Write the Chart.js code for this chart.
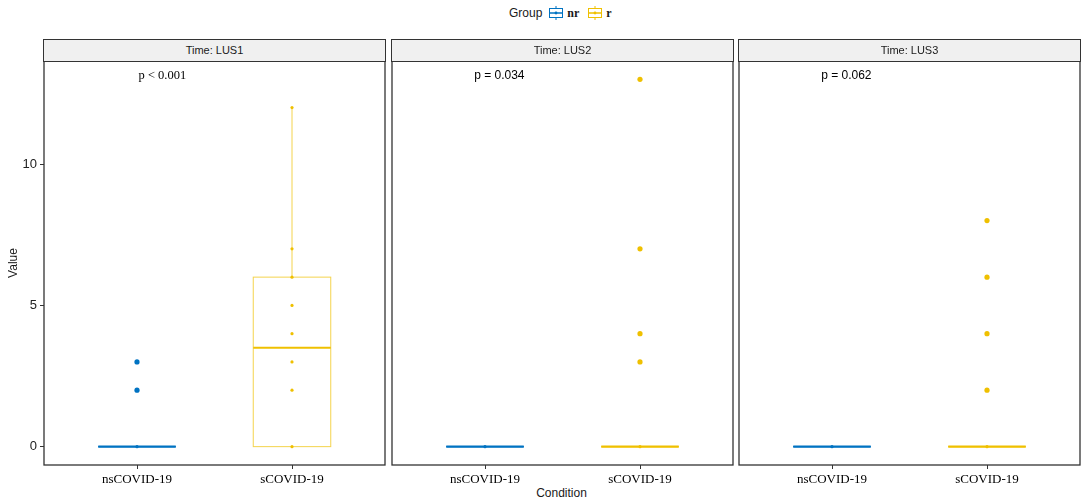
<!DOCTYPE html>
<html>
<head>
<meta charset="utf-8">
<script src="https://cdn.jsdelivr.net/npm/chart.js@4.4.1/dist/chart.umd.min.js"></script>
<style>
  html, body { margin:0; padding:0; background:#fff; }
  body { width:1084px; height:501px; position:relative; overflow:hidden; font-family:"Liberation Sans", Arial, sans-serif; }
  canvas { position:absolute; }
  .strip { position:absolute; top:39px; height:21px; background:#F0F0F0; border:1px solid #333; box-sizing:content-box;
           font:11px "Liberation Sans", Arial, sans-serif; color:#1a1a1a; text-align:center; line-height:21px; z-index:2; }
  .legend { position:absolute; top:5px; left:509px; font:12px "Liberation Sans", Arial, sans-serif; color:#1a1a1a; display:flex; align-items:center; height:16px; }
  .legend span { margin-right:6px; }
  .legend .lab { font:bold 12px "Liberation Serif", "Times New Roman", serif; margin-left:3px; margin-right:8px; }
  .xtitle { position:absolute; top:486px; left:0; width:1123px; text-align:center; font:12px "Liberation Sans", Arial, sans-serif; color:#1a1a1a; }
</style>
</head>
<body>
<div class="legend" id="legend"></div>
<div class="xtitle">Condition</div>
<canvas id="c0" width="386" height="445" style="left:0px;top:56px"></canvas>
<canvas id="c1" width="343" height="445" style="left:391px;top:56px"></canvas>
<canvas id="c2" width="343" height="445" style="left:738px;top:56px"></canvas>
<script>
// ---- data ----
const panels = ['Time: LUS1', 'Time: LUS2', 'Time: LUS3'];
const categories = ['nsCOVID-19', 'sCOVID-19'];
const groups = ['nr', 'r'];
const groupColors = ['#0073C2', '#EFC000'];
const pLabels = ['p < 0.001', 'p = 0.034', 'p = 0.062'];
const yTicks = [0, 5, 10];

// raw observation points (per panel: [nsCOVID-19 (nr), sCOVID-19 (r)])
const lus1Ns = [0, 2, 3];
const lus1S  = [0, 2, 3, 4, 5, 6, 7, 12];
const lus2Ns = [0];
const lus2S  = [0, 3, 4, 7, 13];
const lus3Ns = [0];
const lus3S  = [0, 2, 4, 6, 8];

// box statistics [min, q1, median, q3, max]
const lus1NsBox = [0, 0, 0, 0, 0];
const lus1SBox  = [0, 0, 3.5, 6, 12];
const lus2NsBox = [0, 0, 0, 0, 0];
const lus2SBox  = [0, 0, 0, 0, 0];
const lus3NsBox = [0, 0, 0, 0, 0];
const lus3SBox  = [0, 0, 0, 0, 0];

// outliers
const lus1NsOut = [2, 3];
const lus1SOut  = [];
const lus2NsOut = [];
const lus2SOut  = [3, 4, 7, 13];
const lus3NsOut = [];
const lus3SOut  = [2, 4, 6, 8];

const panelData = [
  { points: [lus1Ns, lus1S], boxes: [lus1NsBox, lus1SBox], outliers: [lus1NsOut, lus1SOut] },
  { points: [lus2Ns, lus2S], boxes: [lus2NsBox, lus2SBox], outliers: [lus2NsOut, lus2SOut] },
  { points: [lus3Ns, lus3S], boxes: [lus3NsBox, lus3SBox], outliers: [lus3NsOut, lus3SOut] },
];

// ---- styling ----
const pLabelX = [1.01, 0.93, 0.93];
const pLabelFonts = ['12.5px "Liberation Serif", "Times New Roman", serif', '12px "Liberation Sans", Arial, sans-serif', '12px "Liberation Sans", Arial, sans-serif'];
const boxLine = ['rgba(0,115,194,0.85)', 'rgba(239,192,0,0.7)'];
const stripPos = [[44, 341], [392, 341], [739, 341]];

// strips
stripPos.forEach((p, i) => {
  const d = document.createElement('div');
  d.className = 'strip';
  d.style.left = (p[0] - 1) + 'px';
  d.style.width = p[1] + 'px';
  d.textContent = panels[i];
  document.body.appendChild(d);
});

// legend
const lg = document.getElementById('legend');
lg.innerHTML = '<span>Group</span>' + groups.map((g, i) =>
  '<svg width="16" height="14" viewBox="0 0 16 14"><line x1="8" y1="0" x2="8" y2="14" stroke="' + groupColors[i] + '" stroke-width="1"/>' +
  '<rect x="1.5" y="2.5" width="13" height="9" fill="#fff" stroke="' + groupColors[i] + '" stroke-width="1"/>' +
  '<line x1="1.5" y1="7" x2="14.5" y2="7" stroke="' + groupColors[i] + '" stroke-width="1.5"/>' +
  '<circle cx="8" cy="7" r="1.4" fill="' + groupColors[i] + '"/></svg><span class="lab">' + g + '</span>'
).join('');

const boxPlugin = {
  id: 'boxes',
  beforeDatasetsDraw(chart) {
    const { ctx, scales: { x, y } } = chart;
    const pd = chart.options.plugins.boxes.panel;
    pd.boxes.forEach((b, ci) => {
      const cx = x.getPixelForValue(ci + 1);
      const xl = x.getPixelForValue(ci + 1 - 0.25);
      const xr = x.getPixelForValue(ci + 1 + 0.25);
      const [mn, q1, md, q3, mx] = b.map(v => y.getPixelForValue(v));
      ctx.save();
      ctx.strokeStyle = boxLine[ci];
      ctx.lineWidth = 1;
      ctx.beginPath();
      ctx.moveTo(cx, q3); ctx.lineTo(cx, mx);
      ctx.moveTo(cx, q1); ctx.lineTo(cx, mn);
      ctx.stroke();
      ctx.strokeRect(xl, q3, xr - xl, q1 - q3);
      ctx.strokeStyle = groupColors[ci];
      ctx.lineWidth = 2.2;
      ctx.beginPath();
      ctx.moveTo(xl, md); ctx.lineTo(xr, md);
      ctx.stroke();
      ctx.restore();
    });
  },
  afterDraw(chart) {
    const { ctx, chartArea: a, scales: { x, y } } = chart;
    const idx = chart.options.plugins.boxes.index;
    ctx.save();
    ctx.strokeStyle = '#333';
    ctx.lineWidth = 1.3;
    ctx.strokeRect(a.left, a.top, a.right - a.left, a.bottom - a.top);
    ctx.fillStyle = '#000';
    ctx.font = pLabelFonts[idx];
    ctx.textAlign = 'left';
    ctx.textBaseline = 'middle';
    ctx.fillText(pLabels[idx], x.getPixelForValue(pLabelX[idx]), y.getPixelForValue(13.12));
    ctx.restore();
  }
};

panelData.forEach((pd, i) => {
  const datasets = [];
  pd.points.forEach((pts, ci) => {
    datasets.push({
      label: groups[ci] + ' points',
      data: pts.map(v => ({ x: ci + 1, y: v })),
      backgroundColor: groupColors[ci], borderWidth: 0, pointRadius: 1.6
    });
    datasets.push({
      label: groups[ci] + ' outliers',
      data: pd.outliers[ci].map(v => ({ x: ci + 1, y: v })),
      backgroundColor: groupColors[ci], borderWidth: 0, pointRadius: 2.6
    });
  });
  new Chart(document.getElementById('c' + i), {
    type: 'scatter',
    data: { datasets },
    plugins: [boxPlugin],
    options: {
      responsive: false, animation: false, devicePixelRatio: 1,
      layout: { autoPadding: false, padding: { top: 5, right: 1, left: i === 0 ? 0 : 1, bottom: 0 } },
      plugins: {
        legend: { display: false }, tooltip: { enabled: false },
        boxes: { panel: pd, index: i }
      },
      scales: {
        x: {
          type: 'linear', min: 0.4, max: 2.6,
          afterBuildTicks: s => { s.ticks = categories.map((c, k) => ({ value: k + 1 })); },
          afterFit: s => { s.height = 36; s.paddingLeft = 0; s.paddingRight = 0; },
          ticks: { autoSkip: false, padding: 3, color: '#000',
                   font: { family: '"Liberation Serif", "Times New Roman", serif', size: 13 },
                   callback: v => categories[Math.round(v) - 1] },
          grid: { display: true, drawOnChartArea: false, drawTicks: true, tickLength: 4, color: '#333' },
          border: { display: false }
        },
        y: {
          display: i === 0,
          min: -0.65, max: 13.65,
          afterBuildTicks: s => { s.ticks = yTicks.map(v => ({ value: v })); },
          afterFit: s => { s.width = (i === 0) ? 44 : 0; s.paddingTop = 0; s.paddingBottom = 0; },
          ticks: { padding: 3, color: '#222', font: { family: '"Liberation Sans", Arial, sans-serif', size: 13 } },
          grid: { display: true, drawOnChartArea: false, drawTicks: true, tickLength: 4, color: '#333' },
          border: { display: false },
          title: { display: true, text: 'Value', color: '#1a1a1a', padding: { top: 6, bottom: 0 },
                   font: { family: '"Liberation Sans", Arial, sans-serif', size: 12 } }
        }
      }
    }
  });
});
</script>
</body>
</html>
